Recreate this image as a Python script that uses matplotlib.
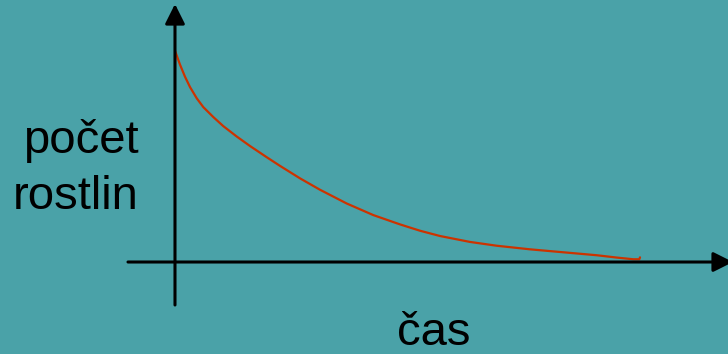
import matplotlib.pyplot as plt

# počet rostlin v čase (start = 100)
cas = [0.0, 0.108, 0.215, 0.323, 0.467, 0.609, 0.824, 1.039, 1.327, 1.613,
       1.972, 2.258, 2.688, 3.118, 3.692, 4.265, 4.839, 5.269, 5.699, 6.344,
       6.918, 7.634, 8.351, 9.069, 9.499, 9.856, 9.985, 10.0]
pocet = [100.0, 93.4, 87.7, 82.8, 77.5, 73.3, 68.6, 64.3, 59.4, 54.9,
         49.6, 45.5, 39.6, 34.2, 27.7, 22.2, 17.8, 14.8, 12.3, 9.5,
         7.7, 6.0, 4.6, 3.2, 2.1, 1.3, 1.3, 2.2]

popisek_y = ['počet', 'rostlin']
popisek_x = 'čas'

bg = '#4AA2A8'
W, H = 728, 354

fig = plt.figure(figsize=(W / 100, H / 100), dpi=100, facecolor=bg)
ax = fig.add_axes([0, 0, 1, 1])
ax.set_facecolor(bg)
ax.set_xlim(-3.763, 11.892)
ax.set_ylim(-43.54, 124.0)
ax.axis('off')

# osy se šipkami
sipka = dict(arrowstyle='-|>,head_length=1.0,head_width=0.5',
             color='black', lw=2.2, shrinkA=0, shrinkB=0, mutation_scale=12)
ax.annotate('', xy=(0, 122.1), xytext=(0, -20.35), arrowprops=sipka,
            annotation_clip=False)
ax.annotate('', xy=(12.0, 0), xytext=(-1.011, 0), arrowprops=sipka,
            annotation_clip=False)

# křivka
ax.plot(cas, pocet, color='#CC3300', lw=1.6, solid_capstyle='round')

# popisky
def px(x, y):
    return x / W, (H - y) / H

fnt = dict(family='Liberation Sans', fontsize=34, color='black',
           transform=fig.transFigure, va='baseline', ha='left')
fig.text(*px(23, 153), popisek_y[0], **fnt)
fig.text(*px(13, 209), popisek_y[1], **fnt)
fig.text(*px(397, 345), popisek_x, **fnt)

fig.savefig('out.png', dpi=100, facecolor=bg)
